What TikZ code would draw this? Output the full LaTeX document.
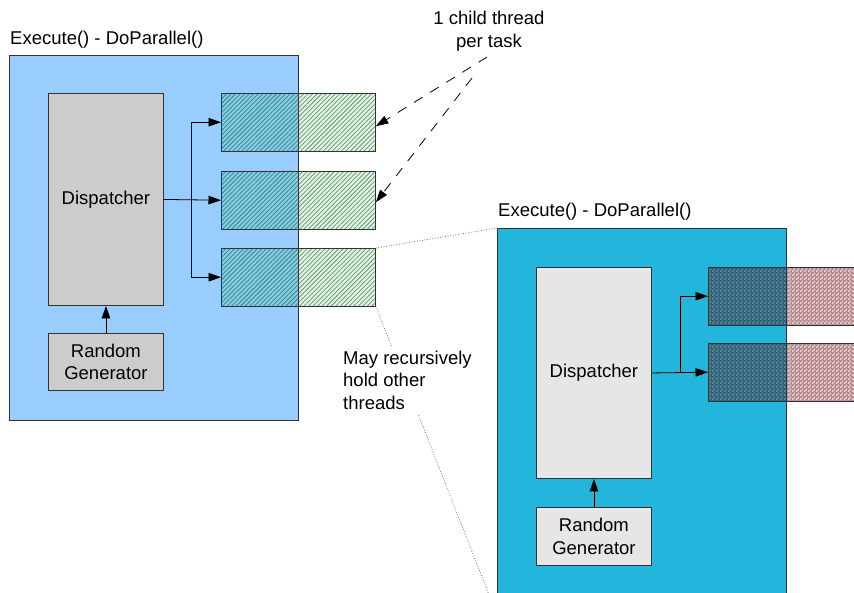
\documentclass[tikz,border=0pt]{standalone}
\usepackage{fontspec}
\setmainfont{Liberation Sans}
\usetikzlibrary{patterns.meta,arrows.meta}
\definecolor{blueL}{HTML}{99CCFF}
\definecolor{cyanR}{HTML}{22B6DC}
\definecolor{grayL}{HTML}{CCCCCC}
\definecolor{grayR}{HTML}{E6E6E6}
\definecolor{hatchInBase}{HTML}{86CDE2}
\definecolor{hatchInLine}{HTML}{34828E}
\definecolor{hatchOutBase}{HTML}{E4F2E6}
\definecolor{hatchOutLine}{HTML}{5E9A66}
\definecolor{chkInBase}{HTML}{2E5E76}
\definecolor{chkInLine}{HTML}{5D8EA5}
\definecolor{chkOutBase}{HTML}{B88890}
\definecolor{chkOutLine}{HTML}{EBD6D8}
\definecolor{edge}{HTML}{333333}
\tikzdeclarepattern{
  name=checker, type=uncolored,
  bounding box={(0pt,0pt) and (4pt,4pt)},
  tile size={(4pt,4pt)},
  code={
    \pgfpathrectangle{\pgfpointorigin}{\pgfpoint{2pt}{2pt}}
    \pgfpathrectangle{\pgfpoint{2pt}{2pt}}{\pgfpoint{2pt}{2pt}}
    \pgfusepath{fill}
  }
}
\begin{document}
\begin{tikzpicture}[x=1pt,y=-1pt,
  lbl/.style={font=\fontsize{18.5}{22.5}\selectfont, inner sep=0pt},
  outerbox/.style={draw=edge, line width=0.9pt, minimum width=289pt, anchor=north west, inner sep=0pt},
  innerbox/.style={draw=edge, line width=0.9pt, minimum width=115pt, anchor=north west, inner sep=0pt,
    align=center, font=\fontsize{18.5}{22.5}\selectfont},
  taskbox/.style={draw=edge, line width=0.9pt, minimum height=57.5pt, anchor=north west, inner sep=0pt},
  arr/.style={draw=black, line width=0.8pt, -{Triangle[length=12.5pt,width=8.5pt]}},
  plain/.style={draw=black, line width=0.8pt},
  dashl/.style={draw=black, line width=0.8pt, dash pattern=on 10pt off 9pt, -{Triangle[length=12.5pt,width=8.5pt]}},
  dotl/.style={draw=black!55, line width=0.8pt, dash pattern=on 0.8pt off 1.8pt},
  hatchIn/.style={fill=hatchInBase, postaction={pattern={Lines[angle=45,distance=3.2pt,line width=0.75pt]}, pattern color=hatchInLine}},
  hatchOut/.style={fill=hatchOutBase, postaction={pattern={Lines[angle=45,distance=3.2pt,line width=0.75pt]}, pattern color=hatchOutLine}},
  chkIn/.style={fill=chkInBase, postaction={pattern=checker, pattern color=chkInLine}},
  chkOut/.style={fill=chkOutBase, postaction={pattern=checker, pattern color=chkOutLine}}
]
\useasboundingbox (0,0) rectangle (854,592);
\clip (0,0) rectangle (854,592);
\fill[white] (0,0) rectangle (854,592);

% ---------- left frame ----------
\node[outerbox, fill=blueL, minimum height=365pt] (L) at (9,55) {};
\node[lbl, anchor=west] (Ltitle) at (10,40) {Execute() - DoParallel()};
\node[innerbox, fill=grayL, minimum height=212pt] (Ld) at (48,93) {Dispatcher};
\node[innerbox, fill=grayL, minimum height=57pt] (Lr) at (48,333) {Random\\Generator};

\node[taskbox, minimum width=154pt] (t1) at (221,93) {};
\node[taskbox, minimum width=154pt] (t2) at (221,171) {};
\node[taskbox, minimum width=154pt] (t3) at (221,248) {};
\foreach \t in {t1,t2,t3}{
  \path[hatchIn] (\t.north west) rectangle (\t.south west -| L.east);
  \path[hatchOut] (\t.north west -| L.east) rectangle (\t.south east);
}
\draw[edge, line width=0.9pt] (L.north east) -- (L.south east);
\foreach \t in {t1,t2,t3}{ \draw[edge, line width=0.9pt] (\t.north west) rectangle (\t.south east); }

\coordinate (Lb) at (191,0);
\draw[arr] (Lr.north) -- (Ld.south);
\draw[arr] (Ld.east) -- (t2.west);
\draw[plain] (t1.west -| Lb) -- (t3.west -| Lb);
\draw[arr] (t1.west -| Lb) -- (t1.west);
\draw[arr] (t3.west -| Lb) -- (t3.west);

% ---------- right frame ----------
\node[outerbox, fill=cyanR, minimum height=400pt] (R) at (497,228) {};
\node[lbl, anchor=west] (Rtitle) at (498,212) {Execute() - DoParallel()};
\node[innerbox, fill=grayR, minimum height=211pt] (Rd) at (536,267) {Dispatcher};
\node[innerbox, fill=grayR, minimum height=58pt] (Rr) at (536,507) {Random\\Generator};

\node[taskbox, minimum width=180pt] (u1) at (708,267) {};
\node[taskbox, minimum width=180pt] (u2) at (708,343) {};
\foreach \t in {u1,u2}{
  \path[chkIn] (\t.north west) rectangle (\t.south west -| R.east);
  \path[chkOut] (\t.north west -| R.east) rectangle (\t.south east);
}
\draw[edge, line width=0.9pt] (R.north east) -- (R.south east);
\foreach \t in {u1,u2}{ \draw[edge, line width=0.9pt] (\t.north west) rectangle (\t.south east); }

\coordinate (Rb) at (680,0);
\draw[arr] (Rr.north) -- (Rd.south);
\draw[arr] (Rd.east) -- (u2.west);
\draw[plain] (u1.west -| Rb) -- (u2.west -| Rb);
\draw[arr] (u1.west -| Rb) -- (u1.west);

% ---------- annotations ----------
\node[lbl, align=center] (note1) at (489,31) {1 child thread\\per task};
\coordinate (d1) at (487,57);
\coordinate (d2) at (472,78);
\draw[dashl] (d1) -- ([yshift=-4pt]t1.east);
\draw[dashl] (d2) -- ([yshift=-2pt]t2.east);

\coordinate (zEnd) at (491,600);
\draw[dotl] (t3.north east) -- (R.north west);
\draw[dotl] (t3.south east) -- (zEnd);
\node[lbl, align=left, fill=white, inner sep=5pt, anchor=west] (note2) at (338,380) {May recursively\\hold other\\threads};
\end{tikzpicture}
\end{document}
